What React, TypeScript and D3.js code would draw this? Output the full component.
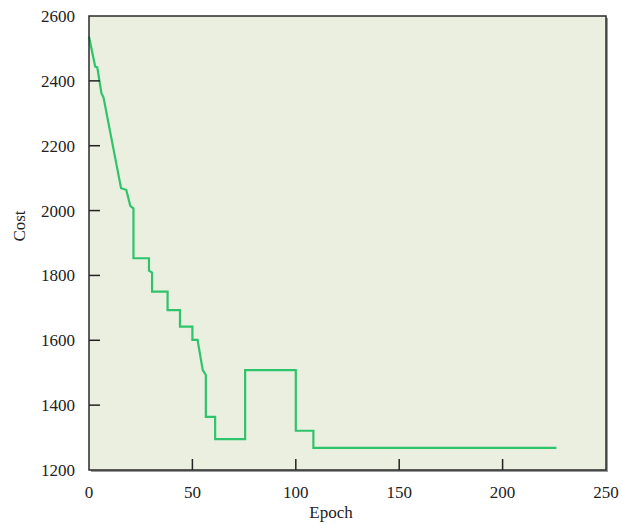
import { useEffect, useRef } from "react"
import * as d3 from "d3"

// epoch / cost vertices of the cost curve
const epochs = [0, 3, 4, 6, 7, 15.5, 18, 20, 21.5, 21.5, 29, 29, 30.5, 30.5, 38, 38, 44, 44, 50, 50, 52.5, 55, 56.5, 56.5, 61, 61, 75.5, 75.5, 100, 100, 108.5, 108.5, 226]
const costs = [2536, 2444, 2442, 2362, 2349, 2069, 2064, 2014, 2007, 1853, 1853, 1815, 1809, 1750, 1750, 1693, 1693, 1642, 1642, 1601, 1601, 1508, 1493, 1364, 1364, 1295, 1295, 1508, 1508, 1321, 1321, 1268, 1268]

const xTicks = [0, 50, 100, 150, 200, 250]
const yTicks = [1200, 1400, 1600, 1800, 2000, 2200, 2400, 2600]

export default function App() {
    const ref = useRef<SVGSVGElement>(null)

    useEffect(() => {
        const width = 622
        const height = 525
        const marginLeft = 89
        const marginRight = 16
        const marginTop = 16
        const marginBottom = 55
        const font = "'Liberation Serif', 'Times New Roman', serif"

        const svg = d3.select(ref.current)
        svg.selectAll("*").remove()

        const x = d3.scaleLinear().domain([0, 250]).range([marginLeft, width - marginRight])
        const y = d3.scaleLinear().domain([1200, 2600]).range([height - marginBottom, marginTop])

        const pw = x(250) - x(0)
        const ph = y(1200) - y(2600)

        // shadow + plot background
        svg.append("rect")
            .attr("x", x(0) + 2).attr("y", y(2600) + 2)
            .attr("width", pw).attr("height", ph)
            .attr("fill", "#9a9a9a")
        svg.append("rect")
            .attr("x", x(0)).attr("y", y(2600))
            .attr("width", pw).attr("height", ph)
            .attr("fill", "#ebefdf")

        // the curve
        const data = epochs.map((e, i) => [e, costs[i]] as [number, number])
        svg.append("path")
            .datum(data)
            .attr("fill", "none")
            .attr("stroke", "#2ec46c")
            .attr("stroke-width", 2.2)
            .attr("d", d3.line<[number, number]>().x(d => x(d[0])).y(d => y(d[1])))

        // ticks pointing inward
        svg.append("g")
            .selectAll("line")
            .data(xTicks.slice(1, -1))
            .join("line")
                .attr("x1", d => x(d)).attr("x2", d => x(d))
                .attr("y1", y(1200)).attr("y2", y(1200) - 11)
                .attr("stroke", "#222").attr("stroke-width", 1.5)
        svg.append("g")
            .selectAll("line")
            .data(yTicks.slice(1, -1))
            .join("line")
                .attr("x1", x(0)).attr("x2", x(0) + 11)
                .attr("y1", d => y(d)).attr("y2", d => y(d))
                .attr("stroke", "#222").attr("stroke-width", 1.5)

        // frame
        svg.append("rect")
            .attr("x", x(0)).attr("y", y(2600))
            .attr("width", pw).attr("height", ph)
            .attr("fill", "none")
            .attr("stroke", "#2a2a2a")
            .attr("stroke-width", 1.5)

        // tick labels
        svg.append("g")
                .attr("font-family", font)
                .attr("font-size", 17)
                .attr("fill", "#222")
                .attr("text-anchor", "middle")
            .selectAll("text")
            .data(xTicks)
            .join("text")
                .attr("x", d => x(d))
                .attr("y", y(1200) + 28)
                .text(d => d)
        svg.append("g")
                .attr("font-family", font)
                .attr("font-size", 17)
                .attr("fill", "#222")
                .attr("text-anchor", "end")
            .selectAll("text")
            .data(yTicks)
            .join("text")
                .attr("x", x(0) - 14)
                .attr("y", d => y(d))
                .attr("dy", "0.35em")
                .text(d => d)

        // axis titles
        svg.append("text")
            .attr("font-family", font)
            .attr("font-size", 17)
            .attr("fill", "#222")
            .attr("text-anchor", "middle")
            .attr("x", 331)
            .attr("y", y(1200) + 48)
            .text("Epoch")
        svg.append("text")
            .attr("font-family", font)
            .attr("font-size", 17)
            .attr("fill", "#222")
            .attr("text-anchor", "middle")
            .attr("transform", `translate(25,226)rotate(-90)`)
            .text("Cost")
    }, [])

    return (
        <svg ref={ref} width={622} height={525}
            style={{ position: "absolute", left: 0, top: 0, background: "#fff" }} />
    )
}
